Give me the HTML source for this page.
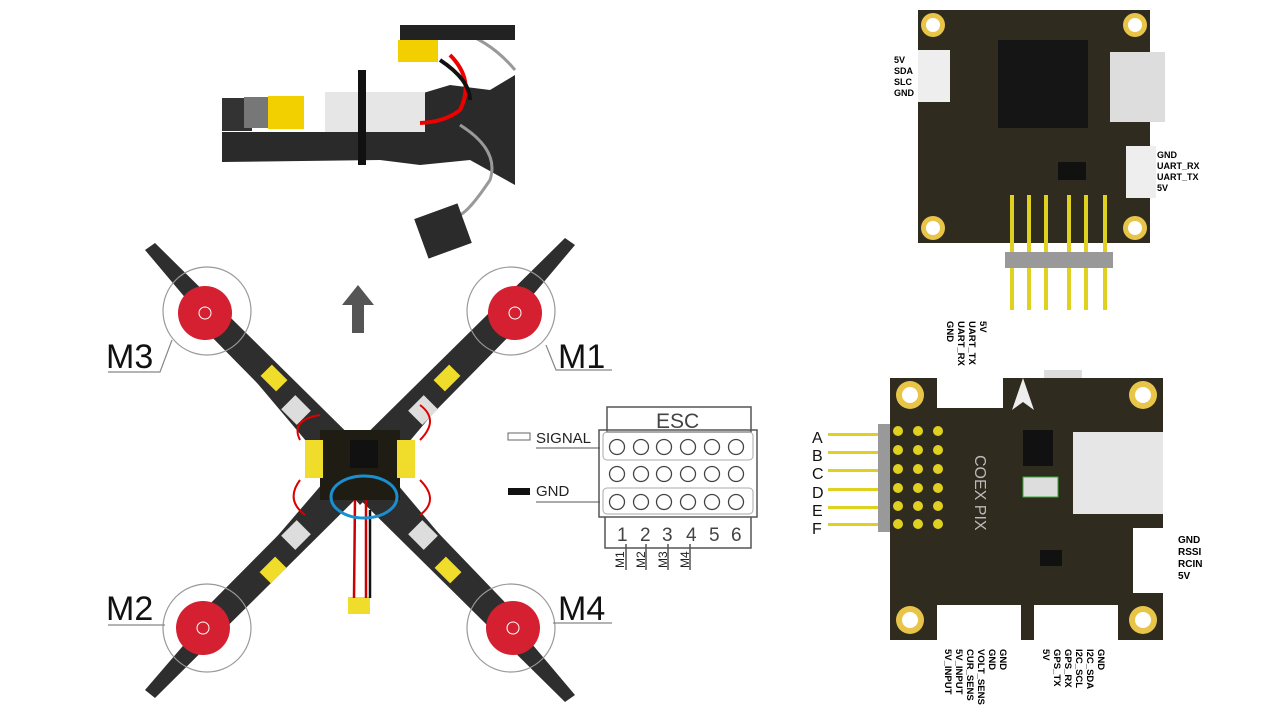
<!DOCTYPE html>
<html><head><meta charset="utf-8"><style>
body{margin:0;width:1277px;height:716px;background:#fff;overflow:hidden;position:relative;font-family:"Liberation Sans",sans-serif}
.v{position:absolute;writing-mode:vertical-rl;font-weight:bold;font-size:9.5px;line-height:11px;color:#000;white-space:nowrap}
.l{position:absolute;font-weight:bold;font-size:9px;line-height:11px;color:#000}
</style></head><body>
<svg width="1277" height="716" style="position:absolute;left:0;top:0" font-family="Liberation Sans, sans-serif">
<!-- top photo -->
<path d="M222 132 L380 132 L400 100 L450 85 L490 90 L515 75 L515 185 L470 160 L420 165 L380 160 L222 162 Z" fill="#2a2a2a"/>
<rect x="222" y="98" width="30" height="33" fill="#333"/>
<rect x="244" y="97" width="30" height="31" fill="#777"/>
<rect x="268" y="96" width="36" height="33" fill="#f2d000"/>
<rect x="325" y="92" width="100" height="40" fill="#e6e6e6"/>
<rect x="358" y="70" width="8" height="95" fill="#111"/>
<rect x="398" y="40" width="40" height="22" fill="#f2d000"/>
<path d="M450 55 Q475 80 460 110 Q445 122 420 123" stroke="#e00" stroke-width="4" fill="none"/>
<path d="M440 60 Q470 80 470 100" stroke="#111" stroke-width="4" fill="none"/>
<path d="M455 30 Q490 40 515 70" stroke="#999" stroke-width="3" fill="none"/>
<path d="M460 125 Q500 150 490 180 Q470 210 460 215" stroke="#999" stroke-width="3" fill="none"/>
<rect x="420" y="210" width="46" height="42" fill="#2b2b2b" transform="rotate(-20 443 231)"/>
<rect x="400" y="25" width="115" height="15" fill="#222"/>
<!-- drone arms -->
<g fill="#2e2e2e">
<path d="M145 250 L155 243 L390 475 L360 505 Z"/>
<path d="M575 245 L565 238 L330 470 L360 500 Z"/>
<path d="M145 690 L155 698 L390 465 L360 440 Z"/>
<path d="M575 695 L565 702 L330 470 L360 440 Z"/>
</g>
<g stroke="#2e2e2e" stroke-linecap="round">
<line x1="205" y1="313" x2="330" y2="440" stroke-width="24"/><line x1="515" y1="313" x2="390" y2="440" stroke-width="24"/>
<line x1="203" y1="628" x2="330" y2="500" stroke-width="24"/><line x1="513" y1="628" x2="390" y2="500" stroke-width="24"/>
</g>
<rect x="320" y="430" width="80" height="70" fill="#1f1c14"/>
<rect x="350" y="440" width="28" height="28" fill="#111"/>
<g fill="#f0dc2a"><rect x="263" y="370" width="22" height="16" transform="rotate(45 274 378)"/><rect x="436" y="370" width="22" height="16" transform="rotate(-45 447 378)"/><rect x="262" y="562" width="22" height="16" transform="rotate(-45 273 570)"/><rect x="437" y="562" width="22" height="16" transform="rotate(45 448 570)"/>
<rect x="305" y="440" width="18" height="38" /><rect x="397" y="440" width="18" height="38"/><rect x="348" y="597" width="22" height="17"/></g>
<g fill="#ddd"><rect x="285" y="400" width="22" height="20" transform="rotate(45 296 410)"/><rect x="412" y="400" width="22" height="20" transform="rotate(-45 423 410)"/><rect x="285" y="525" width="22" height="20" transform="rotate(-45 296 535)"/><rect x="412" y="525" width="22" height="20" transform="rotate(45 423 535)"/></g>
<path d="M300 440 Q290 420 320 415 M420 440 Q440 420 420 405 M300 480 Q285 500 305 515 M420 480 Q440 500 420 515" stroke="#d00" stroke-width="2" fill="none"/>
<path d="M355 500 L354 598 M366 500 L366 598" stroke="#c00" stroke-width="2.5"/>
<path d="M370 510 L370 598" stroke="#111" stroke-width="2.5"/>
<ellipse cx="364" cy="497" rx="33" ry="21" fill="none" stroke="#1a8fd0" stroke-width="3"/>
<g fill="none" stroke="#999" stroke-width="1.2">
<circle cx="207" cy="311" r="44"/><circle cx="511" cy="311" r="44"/><circle cx="207" cy="628" r="44"/><circle cx="511" cy="628" r="44"/>
</g>
<g fill="#d42030"><circle cx="205" cy="313" r="27"/><circle cx="515" cy="313" r="27"/><circle cx="203" cy="628" r="27"/><circle cx="513" cy="628" r="27"/></g>
<g fill="none" stroke="#fff" stroke-width="1"><circle cx="205" cy="313" r="6"/><circle cx="515" cy="313" r="6"/><circle cx="203" cy="628" r="6"/><circle cx="513" cy="628" r="6"/></g>
<g stroke="#888" fill="none" stroke-width="1.2">
<path d="M108 372 L160 372 L172 340"/><path d="M612 370 L556 370 L546 345"/><path d="M108 625 L165 625"/><path d="M612 623 L553 623"/>
</g>
<g font-size="34" fill="#111"><text x="106" y="368">M3</text><text x="558" y="368">M1</text><text x="106" y="620">M2</text><text x="558" y="620">M4</text></g>
<path d="M358 285 L342 305 L352 305 L352 333 L364 333 L364 305 L374 305 Z" fill="#555"/>
<!-- ESC -->
<g stroke="#555" fill="none" stroke-width="1.5">
<rect x="607" y="407" width="144" height="25"/>
<rect x="599" y="430" width="158" height="87"/>
<path d="M605 517 L605 548 L751 548 L751 517"/>
<path d="M626 544 L626 570 M646 544 L646 570 M668 544 L668 570 M690 544 L690 570"/>
</g>
<rect x="603" y="432" width="150" height="28" rx="4" fill="none" stroke="#aaa"/>
<rect x="603" y="488" width="150" height="26" rx="4" fill="none" stroke="#aaa"/>
<g fill="none" stroke="#444" stroke-width="1.3">
<g id="r"><circle cx="617" cy="447" r="7.5"/><circle cx="641" cy="447" r="7.5"/><circle cx="664" cy="447" r="7.5"/><circle cx="688" cy="447" r="7.5"/><circle cx="712" cy="447" r="7.5"/><circle cx="736" cy="447" r="7.5"/></g>
<use href="#r" y="27"/><use href="#r" y="55"/>
</g>
<text x="656" y="428" font-size="21" fill="#444">ESC</text>
<g font-size="19" fill="#444"><text x="617" y="541">1</text><text x="640" y="541">2</text><text x="662" y="541">3</text><text x="686" y="541">4</text><text x="709" y="541">5</text><text x="731" y="541">6</text></g>
<g font-size="12" fill="#222"><text transform="translate(624,568) rotate(-90)">M1</text><text transform="translate(645,568) rotate(-90)">M2</text><text transform="translate(667,568) rotate(-90)">M3</text><text transform="translate(689,568) rotate(-90)">M4</text></g>
<rect x="508" y="433" width="22" height="7" fill="#fff" stroke="#666"/>
<rect x="508" y="488" width="22" height="7" fill="#111"/>
<text x="536" y="443" font-size="15" fill="#222">SIGNAL</text><text x="536" y="496" font-size="15" fill="#222">GND</text>
<path d="M536 448 L600 448 M536 502 L600 502" stroke="#555"/>
<!-- top board -->
<rect x="918" y="10" width="232" height="233" fill="#2f2b1e"/>
<g fill="#e8c448"><circle cx="933" cy="25" r="12"/><circle cx="1135" cy="25" r="12"/><circle cx="933" cy="228" r="12"/><circle cx="1135" cy="228" r="12"/></g>
<g fill="#fff"><circle cx="933" cy="25" r="7"/><circle cx="1135" cy="25" r="7"/><circle cx="933" cy="228" r="7"/><circle cx="1135" cy="228" r="7"/></g>
<rect x="998" y="40" width="90" height="88" fill="#151515"/>
<rect x="1110" y="52" width="55" height="70" fill="#ddd"/>
<rect x="918" y="50" width="32" height="52" fill="#eee"/>
<rect x="1126" y="146" width="30" height="52" fill="#eee"/>
<rect x="1058" y="162" width="28" height="18" fill="#111"/>
<g fill="#e0d020"><rect x="1010" y="195" width="4" height="115"/><rect x="1027" y="195" width="4" height="115"/><rect x="1044" y="195" width="4" height="115"/><rect x="1067" y="195" width="4" height="115"/><rect x="1084" y="195" width="4" height="115"/><rect x="1103" y="195" width="4" height="115"/></g>
<rect x="1005" y="252" width="108" height="16" fill="#999"/>
<!-- bottom board -->
<rect x="890" y="378" width="273" height="262" fill="#2f2b1e"/>
<g fill="#e8c448"><circle cx="910" cy="395" r="14"/><circle cx="1143" cy="395" r="14"/><circle cx="910" cy="620" r="14"/><circle cx="1143" cy="620" r="14"/></g>
<g fill="#fff"><circle cx="910" cy="395" r="8"/><circle cx="1143" cy="395" r="8"/><circle cx="910" cy="620" r="8"/><circle cx="1143" cy="620" r="8"/></g>
<rect x="937" y="370" width="66" height="38" fill="#fff"/>
<rect x="1044" y="370" width="38" height="8" fill="#ddd"/>
<path d="M1023 378 L1012 410 L1023 402 L1034 410 Z" fill="#eee"/>
<rect x="1023" y="430" width="30" height="36" fill="#111"/>
<rect x="1073" y="432" width="90" height="82" fill="#e6e6e6"/>
<rect x="1023" y="477" width="35" height="20" fill="#ddd" stroke="#3a3" />
<rect x="1133" y="528" width="30" height="65" fill="#fff"/>
<rect x="937" y="605" width="84" height="35" fill="#fff"/>
<rect x="1034" y="605" width="84" height="35" fill="#fff"/>
<rect x="1040" y="550" width="22" height="16" fill="#111"/>
<g fill="#e0d020"><circle cx="898" cy="431" r="5"/><circle cx="898" cy="450" r="5"/><circle cx="898" cy="469" r="5"/><circle cx="898" cy="488" r="5"/><circle cx="898" cy="506" r="5"/><circle cx="898" cy="524" r="5"/>
<circle cx="918" cy="431" r="5"/><circle cx="918" cy="450" r="5"/><circle cx="918" cy="469" r="5"/><circle cx="918" cy="488" r="5"/><circle cx="918" cy="506" r="5"/><circle cx="918" cy="524" r="5"/>
<circle cx="938" cy="431" r="5"/><circle cx="938" cy="450" r="5"/><circle cx="938" cy="469" r="5"/><circle cx="938" cy="488" r="5"/><circle cx="938" cy="506" r="5"/><circle cx="938" cy="524" r="5"/></g>
<g fill="#e0d020"><rect x="828" y="433" width="62" height="3"/><rect x="828" y="451" width="62" height="3"/><rect x="828" y="469" width="62" height="3"/><rect x="828" y="488" width="62" height="3"/><rect x="828" y="506" width="62" height="3"/><rect x="828" y="523" width="62" height="3"/></g>
<rect x="878" y="424" width="12" height="108" fill="#999"/>
<g font-size="16" fill="#111"><text x="812" y="443">A</text><text x="812" y="461">B</text><text x="812" y="479">C</text><text x="812" y="498">D</text><text x="812" y="516">E</text><text x="812" y="534">F</text></g>
<text transform="translate(975,455) rotate(90)" font-size="16" fill="#bbb">COEX PIX</text>
</svg>
<div class="l" style="left:894px;top:55px">5V<br>SDA<br>SLC<br>GND</div>
<div class="l" style="left:1157px;top:150px">GND<br>UART_RX<br>UART_TX<br>5V</div>
<div class="l" style="left:1178px;top:535px;font-size:10px;line-height:12px">GND<br>RSSI<br>RCIN<br>5V</div>
<div class="v" style="left:944px;top:321px">5V<br>UART_TX<br>UART_RX<br>GND</div>
<div class="v" style="left:942px;top:649px">GND<br>GND<br>VOLT_SENS<br>CUR_SENS<br>5V_INPUT<br>5V_INPUT</div>
<div class="v" style="left:1040px;top:649px">GND<br>I2C_SDA<br>I2C_SCL<br>GPS_RX<br>GPS_TX<br>5V</div>
</body></html>
